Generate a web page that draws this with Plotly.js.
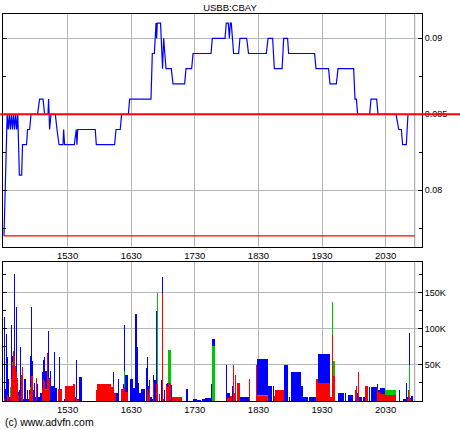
<!DOCTYPE html>
<html>
<head>
<meta charset="utf-8">
<script src="https://cdn.plot.ly/plotly-3.0.1.min.js"></script>
<style>html,body{margin:0;padding:0;background:#fff;}#chart{width:460px;height:430px;}</style>
</head>
<body>
<div id="chart"></div>
<script>
// ---------- DATA ----------
const chartTitle = "USBB:CBAY";
const sessionDay = "2024-01-02";
const xTickLabels = ["1530", "1630", "1730", "1830", "1930", "2030"];
const priceTickLabels = ["0.08", "0.085", "0.09"];
const volTickLabels = ["50K", "100K", "150K"];
const refPrice = 0.085;        // thick red reference line
const lowLevel = 0.077;        // thin red line
const sessionStart = "14:30";
const sessionMarker = "20:57:24";

const priceTime = ["14:30","14:33","14:34","14:35","14:36","14:37","14:38","14:39","14:40","14:41",
"14:42","14:43","14:44:30","14:46:40","14:47:30","14:51:15","14:52:15","14:54:10","14:55:30","15:01:40",
"15:03:35","15:06:50","15:08:20","15:11:30","15:12:05","15:13:00","15:14:20","15:18:25","15:20:00","15:21:55",
"15:25:40","15:26:15","15:27:10","15:36:20","15:38:10","15:38:50","15:39:30","15:56:05","15:57:05","16:14:20",
"16:15:40","16:19:40","16:20:55","16:27:20","16:28:30","16:48:40","16:49:55","16:51:50","16:53:25","16:54:00",
"16:54:35","16:57:40","16:59:35","17:00:35","17:02:50","17:07:50","17:09:25","17:20:25","17:21:40","17:27:00",
"17:28:20","17:45:20","17:46:30","17:58:30","17:59:40","18:01:35","18:02:35","18:03:30","18:04:25","18:06:35",
"18:11:20","18:12:35","18:18:55","18:20:40","18:37:25","18:39:05","18:43:25","18:45:00","18:52:20","18:53:50",
"18:57:30","18:58:30","19:23:00","19:24:20","19:36:10","19:37:30","19:43:30","19:45:05","19:59:50","20:01:05",
"20:02:25","20:03:35","20:14:55","20:16:10","20:21:30","20:22:50","20:39:50","20:42:20","20:44:50","20:46:00",
"20:49:30","20:51:05"];
const priceValue = [0.077,0.085,0.084,0.085,0.084,0.085,0.084,0.085,0.084,0.085,
0.084,0.085,0.081,0.081,0.083,0.083,0.084,0.084,0.085,0.085,
0.086,0.086,0.085,0.085,0.086,0.084,0.085,0.085,0.084,0.083,
0.083,0.084,0.083,0.083,0.084,0.083,0.084,0.084,0.083,0.083,
0.084,0.084,0.085,0.085,0.086,0.086,0.089,0.089,0.091,0.090,
0.091,0.091,0.088,0.090,0.088,0.088,0.087,0.087,0.088,0.088,
0.089,0.089,0.090,0.090,0.091,0.091,0.090,0.091,0.091,0.089,
0.089,0.090,0.090,0.089,0.089,0.090,0.090,0.088,0.088,0.090,
0.090,0.089,0.089,0.088,0.088,0.087,0.087,0.088,0.088,0.086,
0.086,0.085,0.085,0.086,0.086,0.085,0.085,0.084,0.084,0.083,
0.083,0.085];

const volTime = ["14:30:17","14:31:14","14:32:10","14:33:07","14:34:03","14:35:00","14:35:57","14:36:53","14:37:50","14:38:46",
"14:39:43","14:40:40","14:41:36","14:42:33","14:43:29","14:44:26","14:45:23","14:46:19","14:47:16","14:48:12",
"14:49:09","14:51:02","14:51:59","14:52:55","14:53:52","14:54:49","14:55:45","14:56:42","14:57:38","14:58:35",
"14:59:32","15:00:28","15:01:25","15:02:21","15:04:15","15:06:08","15:07:05","15:08:01","15:08:58","15:10:51",
"15:11:48","15:12:44","15:13:41","15:14:37","15:17:27","15:18:24","15:21:14","15:22:10","15:23:07","15:26:53",
"15:27:50","15:35:23","15:37:16","15:38:12","15:39:09","15:41:02","15:57:04","15:58:01","16:11:13","16:13:07",
"16:14:03","16:15:57","16:17:50","16:20:40","16:22:33","16:23:29","16:24:26","16:29:09","16:31:59","16:33:52",
"16:35:45","16:36:42","16:37:38","16:39:32","16:44:15","16:45:11","16:46:08","16:47:05","16:48:01","16:49:55",
"16:50:51","16:51:48","16:53:41","16:54:37","16:56:31","16:58:24","16:59:20","17:00:17","17:01:14","17:03:07",
"17:04:03","17:05:00","17:07:50","17:08:46","17:21:59","17:28:35","17:32:21","17:37:05","17:39:55","17:45:34",
"17:46:31","17:59:43","18:00:40","18:03:29","18:05:23","18:06:19","18:07:16","18:08:12","18:10:05","18:12:55",
"18:21:25","18:28:01","18:28:58","18:39:20","18:44:03","18:45:00","18:45:57","18:54:26","18:59:09","19:01:02",
"19:10:28","19:12:21","19:18:01","19:24:37","19:26:31","19:35:00","19:37:50","19:38:46","19:39:43","19:40:40",
"19:45:23","19:51:59","19:54:49","20:01:25","20:02:21","20:03:18","20:04:15","20:05:11","20:08:58","20:10:51",
"20:14:37","20:16:31","20:22:10","20:23:07","20:25:00","20:29:43","20:42:55","20:46:42","20:49:32","20:50:28",
"20:51:25","20:52:22","20:53:18","20:54:15"];
// minutes each volume block lasts (until the next trade)
const volMinutes = [1,1,1,1,1,1,1,1,1,1,
1,1,1,1,1,1,1,1,1,1,
1.9,1,1,1,1,1,1,1,1,1,
1,1,1,1.9,1.9,1,1,1,1.9,1,
1,1,1,2.8,1,1.9,1,1,1.9,1,
7.5,1.9,1,1,1.9,2.8,1,13.2,1.9,1,
1.9,1.9,1,1.9,1,1,2.8,2.8,1.9,1.9,
1,1,1.9,3.8,1,1,1,1,1.9,1,
1,1.9,1,1,1,1,1,1,1,1,
1,2.8,1,9.4,1.9,3.8,3.8,2.8,5.7,1,
2.8,1,2.8,1.9,1,1,1,1,2.8,8.5,
1,1,10.4,3.8,1,1,8.5,3.8,1,9.4,
1.9,4.7,6.6,1.9,8.1,2.8,1,1,1,1.9,
5.7,1,4.7,1,1,1,1,2.8,1.9,2.8,
1,5.7,1,1.9,4.7,10.4,1,2.8,1,1,
1,1,1,1.9];
// volume (thousands of shares) by trade type
const volRed = [3,0,0,9,5,0,5,30,50,68,
63,47,40,30,8,0,0,36,47,0,
0,0,0,0,10,16,35,35,0,0,
0,32,0,0,0,18,30,28,15,65,
30,30,0,0,0,0,16,16,16,0,
21,23,0,5,2,0,15,23,19,23,
11,0,0,17,18,19,12,0,0,0,
0,0,0,0,0,17,8,18,0,0,
27,0,24,24,10,0,148,3,0,22,
19,25,0,6,0,0,0,0,0,0,
0,0,4,7,0,50,11,36,25,0,
31,50,7,0,0,7,15,0,0,0,
0,0,0,31,25,25,5,5,91,35,
0,0,0,15,21,0,40,0,0,21,
0,0,18,12,10,9,0,0,0,3,
15,5,3,0];
const volGreen = [0,0,0,0,0,0,14,0,4,2,
0,0,0,0,0,0,0,0,0,0,
0,0,0,0,0,4,0,0,0,0,
0,0,0,0,0,0,0,0,2,0,
0,0,0,0,0,0,0,0,0,0,
0,0,0,0,0,0,0,0,0,0,
0,0,0,0,0,22,0,0,0,0,
0,0,0,0,0,0,0,0,0,0,
0,0,0,126,0,0,0,0,0,0,
0,46,0,0,0,0,0,0,0,0,
77,0,0,0,0,0,0,0,0,0,
0,0,1,0,0,0,0,0,0,0,
0,0,0,0,0,0,0,0,47,21,
0,0,0,0,0,0,0,0,0,0,
0,0,0,0,0,6,0,0,0,0,
0,45,0,0];
const volBlue = [114,17,93,52,26,5,0,76,8,0,
114,1,90,2,4,15,75,0,0,3,
31,3,15,3,5,42,95,20,15,25,
5,0,23,5,11,22,27,33,25,1,
67,2,42,21,68,18,0,45,0,3,
0,0,5,52,1,33,0,0,0,17,
0,11,31,0,6,65,24,31,18,121,
75,25,11,16,46,44,13,11,6,3,
9,29,101,0,0,29,24,0,15,2,
6,0,22,0,16,3,2,3,4,24,
9,50,7,0,21,0,0,0,0,6,
0,0,50,21,21,0,0,50,6,40,
21,6,6,0,40,40,0,0,0,0,
11,11,8,0,0,11,0,6,6,0,
19,19,6,3,8,0,15,3,25,3,
0,45,1,7];

// ---------- BUILD ----------
const t = s => sessionDay + " " + s;
const volX = volTime.map(t);
const volW = volMinutes.map(m => m * 60000);
const xRange = [t("14:29:04"), t("21:04:18")];
const xTickVals = xTickLabels.map(s => t(s.slice(0, 2) + ":" + s.slice(2)));

const gridColor = "#b3b9b9";
const axisFont = {family: "Liberation Sans", size: 9, color: "#000"};
const xFont = {family: "Liberation Sans Narrow, Liberation Sans", size: 9.5, color: "#000"};

function barTrace(vals, color) {
  return {
    type: "bar", x: volX, y: vals, width: volW, offset: 0,
    marker: {color: color, line: {width: 0}},
    xaxis: "x", yaxis: "y", hoverinfo: "skip"
  };
}

const traces = [
  barTrace(volRed, "#ff0000"),
  barTrace(volGreen, "#00c800"),
  barTrace(volBlue, "#0000ff"),
  {
    type: "scatter", mode: "lines", x: priceTime.map(t), y: priceValue,
    line: {color: "#0000ff", width: 1.2},
    xaxis: "x2", yaxis: "y2", hoverinfo: "skip"
  }
];

const xCommon = {
  type: "date", range: xRange, tickmode: "array", tickvals: xTickVals, ticktext: xTickLabels,
  showgrid: true, gridcolor: gridColor, gridwidth: 1, ticks: "", showline: true, linecolor: "#000",
  linewidth: 1, mirror: true, tickfont: xFont, zeroline: false, fixedrange: true
};

const layout = {
  width: 460, height: 430,
  margin: {l: 3, r: 38, t: 14, b: 29, pad: 0},
  paper_bgcolor: "#fff", plot_bgcolor: "#fff",
  showlegend: false, barmode: "stack", bargap: 0,
  font: axisFont,
  title: {text: chartTitle, font: {family: "Liberation Sans", size: 9.5, color: "#000"},
          x: 0.5, xref: "container", xanchor: "center", y: 1 - 8 / 430, yref: "container", yanchor: "middle"},
  xaxis: Object.assign({}, xCommon, {domain: [0, 1], anchor: "y"}),
  xaxis2: Object.assign({}, xCommon, {domain: [0, 1], anchor: "y2"}),
  yaxis: {
    domain: [0, 0.3584], range: [0, 192.6], side: "right", anchor: "x",
    tickmode: "array", tickvals: [50, 100, 150], ticktext: volTickLabels,
    ticks: "inside", ticklen: 4, tickcolor: "#000",
    minor: {tickmode: "linear", tick0: 0, dtick: 25, ticks: "inside", ticklen: 3, tickcolor: "#000", showgrid: false},
    showgrid: true, gridcolor: gridColor, showline: true, linecolor: "#000", linewidth: 1, mirror: "allticks",
    zeroline: false, tickfont: axisFont, fixedrange: true
  },
  yaxis2: {
    domain: [0.3979, 1], range: [0.07627, 0.0916], side: "right", anchor: "x2",
    tickmode: "array", tickvals: [0.08, 0.085, 0.09], ticktext: priceTickLabels,
    ticks: "inside", ticklen: 4, tickcolor: "#000",
    minor: {tickmode: "linear", tick0: 0.0775, dtick: 0.005, ticks: "inside", ticklen: 3, tickcolor: "#000", showgrid: false},
    showgrid: true, gridcolor: gridColor, showline: true, linecolor: "#000", linewidth: 1, mirror: "allticks",
    zeroline: false, tickfont: axisFont, fixedrange: true
  },
  shapes: [
    {type: "line", xref: "x2", yref: "y2 domain", x0: t(sessionMarker), x1: t(sessionMarker), y0: 0, y1: 1,
     line: {color: "#9a9a9a", width: 1}, layer: "below"},
    {type: "line", xref: "x", yref: "y domain", x0: t(sessionMarker), x1: t(sessionMarker), y0: 0, y1: 1,
     line: {color: "#9a9a9a", width: 1}, layer: "below"},
    {type: "line", xref: "x2", yref: "y2", x0: t(sessionStart), x1: t(sessionMarker), y0: lowLevel, y1: lowLevel,
     line: {color: "#ff0000", width: 1.2}},
    {type: "line", xref: "paper", yref: "y2", x0: -0.0065, x1: 1.092, y0: refPrice, y1: refPrice,
     line: {color: "#ff0000", width: 2}}
  ],
  annotations: [
    {text: "(c) www.advfn.com", xref: "paper", yref: "paper", x: 0, y: (401 - 421.5) / 387,
     xanchor: "left", yanchor: "middle", showarrow: false,
     font: {family: "Liberation Sans Narrow, Liberation Sans", size: 10.5, color: "#000"}}
  ]
};

Plotly.newPlot("chart", traces, layout, {displayModeBar: false, staticPlot: true});
</script>
</body>
</html>
